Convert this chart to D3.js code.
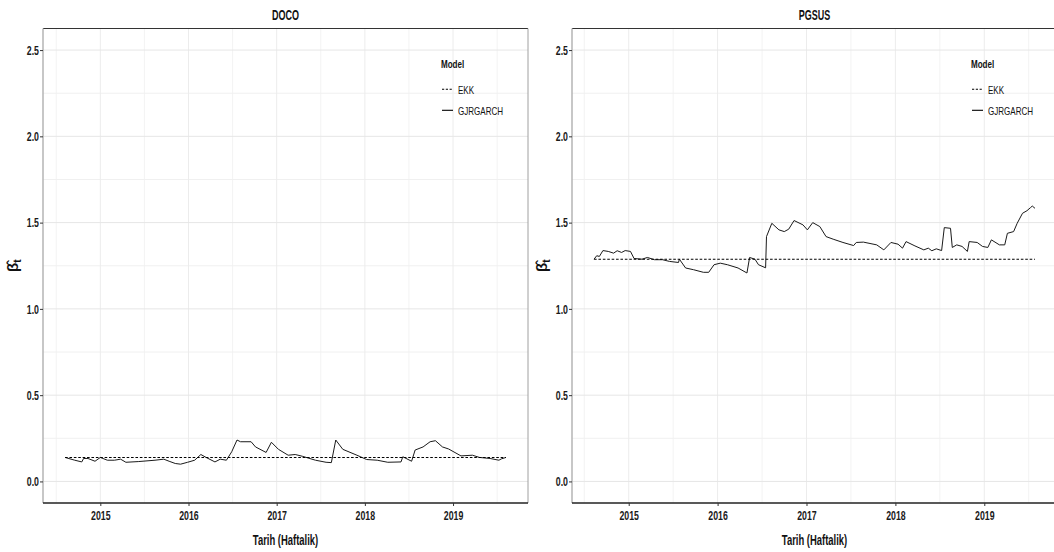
<!DOCTYPE html>
<html><head><meta charset="utf-8">
<script src="https://cdn.jsdelivr.net/npm/d3@7"></script>
<style>
body{margin:0;background:#fff;overflow:hidden;}
text{font-family:"Liberation Sans",Arial,sans-serif;}
</style></head><body>
<svg id="chart" width="1054" height="552"></svg>
<script>
// ---- data (decimal years, weekly beta estimates) ----
const yearTicks = [2015, 2016, 2017, 2018, 2019];
const yTicks = [0.0, 0.5, 1.0, 1.5, 2.0, 2.5];
const seriesNames = ["EKK", "GJRGARCH"];

const docoDates = [2014.60,2014.71,2014.79,2014.81,2014.86,2014.94,2015.00,2015.08,2015.16,2015.23,2015.29,2015.43,2015.62,2015.72,2015.78,2015.85,2015.91,2015.99,2016.07,2016.14,2016.20,2016.30,2016.36,2016.43,2016.49,2016.55,2016.59,2016.71,2016.76,2016.88,2016.94,2017.02,2017.13,2017.21,2017.29,2017.44,2017.56,2017.62,2017.67,2017.75,2017.91,2018.02,2018.14,2018.26,2018.41,2018.43,2018.53,2018.57,2018.66,2018.74,2018.80,2018.88,2018.95,2019.09,2019.22,2019.30,2019.42,2019.52,2019.55,2019.60];
const docoGJR = [0.139,0.123,0.113,0.133,0.133,0.117,0.139,0.123,0.123,0.129,0.111,0.115,0.123,0.129,0.117,0.104,0.100,0.111,0.123,0.156,0.139,0.113,0.129,0.123,0.172,0.240,0.230,0.230,0.200,0.168,0.227,0.186,0.152,0.156,0.146,0.123,0.111,0.109,0.240,0.186,0.152,0.127,0.123,0.111,0.113,0.143,0.117,0.182,0.200,0.230,0.236,0.200,0.188,0.148,0.152,0.139,0.133,0.123,0.131,0.139];
const docoEKK = 0.139;

const pgsusDates = [2014.61,2014.64,2014.67,2014.71,2014.77,2014.83,2014.87,2014.92,2014.96,2015.02,2015.06,2015.15,2015.21,2015.29,2015.38,2015.46,2015.56,2015.57,2015.64,2015.73,2015.84,2015.90,2015.96,2016.03,2016.11,2016.23,2016.33,2016.36,2016.42,2016.46,2016.54,2016.55,2016.61,2016.69,2016.75,2016.80,2016.86,2016.96,2017.01,2017.07,2017.15,2017.22,2017.30,2017.41,2017.53,2017.56,2017.64,2017.79,2017.87,2017.95,2018.03,2018.08,2018.12,2018.22,2018.32,2018.37,2018.41,2018.46,2018.52,2018.55,2018.62,2018.64,2018.69,2018.75,2018.81,2018.83,2018.92,2018.98,2019.04,2019.08,2019.17,2019.23,2019.26,2019.33,2019.37,2019.43,2019.48,2019.52,2019.54,2019.57];
const pgsusGJR = [1.288,1.308,1.304,1.338,1.333,1.323,1.337,1.327,1.338,1.333,1.292,1.288,1.298,1.285,1.285,1.275,1.269,1.288,1.237,1.227,1.212,1.212,1.256,1.265,1.256,1.237,1.208,1.298,1.288,1.256,1.238,1.419,1.496,1.458,1.448,1.462,1.512,1.487,1.458,1.500,1.477,1.419,1.404,1.385,1.367,1.385,1.387,1.371,1.342,1.385,1.375,1.352,1.390,1.365,1.342,1.352,1.337,1.348,1.338,1.471,1.467,1.356,1.371,1.362,1.333,1.390,1.385,1.362,1.356,1.400,1.371,1.371,1.438,1.448,1.496,1.554,1.569,1.587,1.596,1.583];
const pgsusEKK = 1.288;

// ---- layout ----
const panels = [
  {title: "DOCO",  dates: docoDates,  gjr: docoGJR,  ekk: docoEKK,  left: 43,  right: 528},
  {title: "PGSUS", dates: pgsusDates, gjr: pgsusGJR, ekk: pgsusEKK, left: 572, right: 1057}
];
const panelTop = 28.5, panelBottom = 503;
const SX = 0.65;   // horizontal squeeze of the typeface
const svg = d3.select("#chart");

function label(g, x, y, str, size, weight, anchor, sx) {
  return g.append("text")
    .attr("transform", `translate(${x},${y}) scale(${sx},1)`)
    .attr("text-anchor", anchor)
    .style("font-size", size + "px").style("font-weight", weight)
    .attr("fill", "#111").text(str);
}

panels.forEach((p, i) => {
  const ext = d3.extent(p.dates);
  const pad = (ext[1] - ext[0]) * 0.05;
  const x = d3.scaleLinear().domain([ext[0] - pad, ext[1] + pad]).range([p.left, p.right]);
  const y = d3.scaleLinear().domain([-0.125, 2.625]).range([panelBottom, panelTop]);
  const g = svg.append("g");
  const clipId = "clip" + i;
  svg.append("clipPath").attr("id", clipId).append("rect")
    .attr("x", p.left).attr("y", panelTop).attr("width", p.right - p.left).attr("height", panelBottom - panelTop);

  // minor grid
  const xMinor = yearTicks.map(d => d - 0.5).concat([yearTicks[yearTicks.length - 1] + 0.5]);
  const yMinor = yTicks.slice(0, -1).map(d => d + 0.25);
  g.selectAll(".xmin").data(xMinor).enter().append("line")
    .attr("x1", d => x(d)).attr("x2", d => x(d)).attr("y1", panelTop).attr("y2", panelBottom)
    .attr("stroke", "#f3f3f3").attr("stroke-width", 1);
  g.selectAll(".ymin").data(yMinor).enter().append("line")
    .attr("x1", p.left).attr("x2", p.right).attr("y1", d => y(d)).attr("y2", d => y(d))
    .attr("stroke", "#f0f0f0").attr("stroke-width", 1);
  // major grid
  g.selectAll(".xmaj").data(yearTicks).enter().append("line")
    .attr("x1", d => x(d)).attr("x2", d => x(d)).attr("y1", panelTop).attr("y2", panelBottom)
    .attr("stroke", "#ececec").attr("stroke-width", 1);
  g.selectAll(".ymaj").data(yTicks).enter().append("line")
    .attr("x1", p.left).attr("x2", p.right).attr("y1", d => y(d)).attr("y2", d => y(d))
    .attr("stroke", "#e6e6e6").attr("stroke-width", 1);

  // lines
  const lineGen = d3.line().x(d => x(d[0])).y(d => y(d[1]));
  const ekkData = [[ext[0], p.ekk], [ext[1], p.ekk]];
  const gjrData = p.dates.map((d, k) => [d, p.gjr[k]]);
  const lg = g.append("g").attr("clip-path", `url(#${clipId})`);
  lg.append("path").datum(gjrData).attr("d", lineGen)
    .attr("fill", "none").attr("stroke", "#1a1a1a").attr("stroke-width", 1).attr("stroke-linejoin", "round");
  lg.append("path").datum(ekkData).attr("d", lineGen)
    .attr("fill", "none").attr("stroke", "#000").attr("stroke-width", 1.1).attr("stroke-dasharray", "2.6,1.8");

  // panel borders
  g.append("line").attr("x1", p.left).attr("x2", p.right).attr("y1", panelTop).attr("y2", panelTop)
    .attr("stroke", "#333").attr("stroke-width", 1);
  g.append("line").attr("x1", p.left).attr("x2", p.left).attr("y1", panelTop).attr("y2", panelBottom)
    .attr("stroke", "#b5b5b5").attr("stroke-width", 1.5);
  g.append("line").attr("x1", p.right).attr("x2", p.right).attr("y1", panelTop).attr("y2", panelBottom)
    .attr("stroke", "#a0a0a0").attr("stroke-width", 1);
  g.append("line").attr("x1", p.left).attr("x2", p.right).attr("y1", panelBottom).attr("y2", panelBottom)
    .attr("stroke", "#222").attr("stroke-width", 1.3);

  // axes
  const yAxis = d3.axisLeft(y).tickValues(yTicks).tickFormat(d3.format(".1f")).tickSize(3).tickPadding(1);
  const ya = g.append("g").attr("transform", `translate(${p.left},0)`).call(yAxis);
  const xAxis = d3.axisBottom(x).tickValues(yearTicks).tickFormat(d3.format("d")).tickSize(3).tickPadding(4);
  const xa = g.append("g").attr("transform", `translate(0,${panelBottom})`).call(xAxis);
  [ya, xa].forEach(a => {
    a.select(".domain").remove();
    a.selectAll(".tick line").attr("stroke", "#333");
    a.selectAll(".tick text").attr("fill", "#1a1a1a").style("font-size", "13.5px").style("font-weight", "bold")
      .style("font-family", "'Liberation Sans',Arial,sans-serif");
  });
  ya.selectAll(".tick text").attr("x", null).attr("transform", `translate(-4,0) scale(${SX},1)`);
  xa.selectAll(".tick text").attr("transform", `scale(${SX},1)`);

  const cx = (p.left + p.right) / 2;
  // title
  label(g, cx, 20, p.title, 15, "bold", "middle", 0.6);
  // x title
  label(g, cx, 545, "Tarih (Haftalik)", 15, "bold", "middle", 0.63);
  // y title
  const yt = g.append("text")
    .attr("transform", `translate(${p.left - 25},${(panelTop + panelBottom) / 2}) rotate(-90)`)
    .attr("text-anchor", "middle").style("font-size", "15px").style("font-weight", "bold").attr("fill", "#111");
  yt.append("tspan").text("\u03B2\u0302");
  yt.append("tspan").attr("dy", 3).style("font-size", "10px").text("t");

  // legend
  const lx = p.left + (i === 0 ? 398 : 399);
  label(g, lx, 68.3, "Model", 11.5, "bold", "start", 0.7);
  seriesNames.forEach((name, k) => {
    const ly = 89.3 + k * 21;
    g.append("line").attr("x1", lx + 1).attr("x2", lx + 12).attr("y1", ly).attr("y2", ly)
      .attr("stroke", "#000").attr("stroke-width", 1.1)
      .attr("stroke-dasharray", k === 0 ? "2.2,1.6" : null);
    label(g, lx + 17, ly + 4.2, name, 11, "normal", "start", 0.73);
  });
});
</script>
</body></html>
